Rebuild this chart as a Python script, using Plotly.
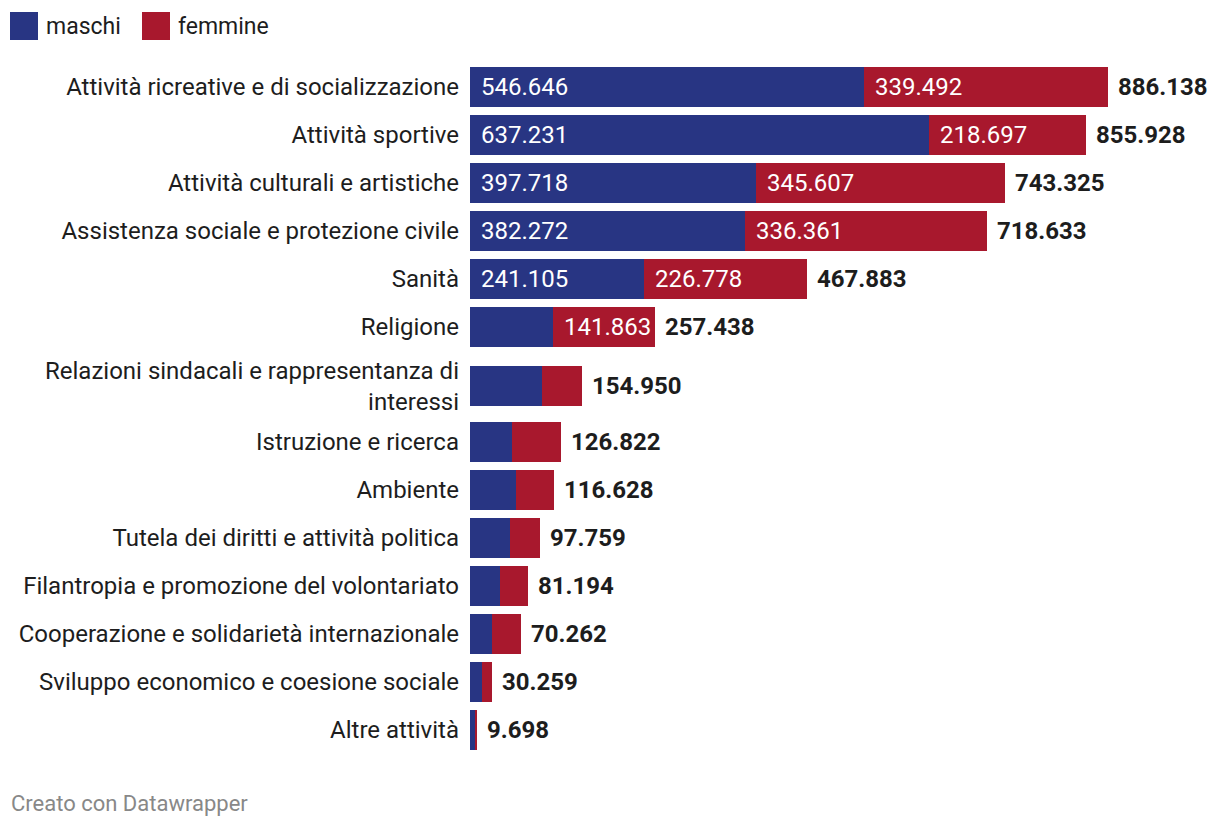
import plotly.graph_objects as go

categories = [
    "Attività ricreative e di socializzazione",
    "Attività sportive",
    "Attività culturali e artistiche",
    "Assistenza sociale e protezione civile",
    "Sanità",
    "Religione",
    "Relazioni sindacali e rappresentanza di<br>interessi",
    "Istruzione e ricerca",
    "Ambiente",
    "Tutela dei diritti e attività politica",
    "Filantropia e promozione del volontariato",
    "Cooperazione e solidarietà internazionale",
    "Sviluppo economico e coesione sociale",
    "Altre attività",
]
maschi = [546646, 637231, 397718, 382272, 241105, 115575, 100000, 57900,
          63900, 55560, 41670, 30560, 16670, 7600]
femmine = [339492, 218697, 345607, 336361, 226778, 141863, 54950, 68922,
           52728, 42199, 39524, 39702, 13589, 2098]
totali = [886138, 855928, 743325, 718633, 467883, 257438, 154950, 126822,
          116628, 97759, 81194, 70262, 30259, 9698]
show_inside_m = [True, True, True, True, True, False, False, False,
                 False, False, False, False, False, False]
show_inside_f = [True, True, True, True, True, True, False, False,
                 False, False, False, False, False, False]

BLUE = "#283583"
RED = "#a8182d"
FONT = "Roboto"
FS = 24


def fmt(v):
    return f"{v:,}".replace(",", ".")


W, H = 1204, 810
L, R, T, B = 462, 10, 52, 58
units_per_px = 886138 / 638
xmax = units_per_px * (W - L - R)

# vertical row layout (pixel units): 48px per row, extra room for 2-line labels
ypos = []
p = 79
for i, c in enumerate(categories):
    if i > 0:
        p += 48
        if "<br>" in c:
            p += 11
        if "<br>" in categories[i - 1]:
            p += 8
    ypos.append(p)

fig = go.Figure()
fig.add_trace(go.Bar(name="maschi", y=ypos, x=maschi, orientation="h",
                     marker=dict(color=BLUE, line=dict(width=0)), width=40,
                     hoverinfo="x"))
fig.add_trace(go.Bar(name="femmine", y=ypos, x=femmine, orientation="h",
                     marker=dict(color=RED, line=dict(width=0)), width=40,
                     hoverinfo="x"))

annotations = []
for i in range(len(categories)):
    if show_inside_m[i]:
        annotations.append(dict(x=0, y=ypos[i], text=fmt(maschi[i]), xref="x", yref="y",
                                xanchor="left", yanchor="middle", xshift=9, showarrow=False,
                                font=dict(family=FONT, size=FS, color="white")))
    if show_inside_f[i]:
        annotations.append(dict(x=maschi[i], y=ypos[i], text=fmt(femmine[i]), xref="x", yref="y",
                                xanchor="left", yanchor="middle", xshift=9, showarrow=False,
                                font=dict(family=FONT, size=FS, color="white")))
    annotations.append(dict(x=totali[i], y=ypos[i], text="<b>" + fmt(totali[i]) + "</b>",
                            xref="x", yref="y", xanchor="left", yanchor="middle", xshift=8,
                            showarrow=False, font=dict(family=FONT, size=FS, color="#1d1d1d")))

# legend + footer (pixel positions converted to paper coords)
annotations += [
    dict(x=36, y=18, xref="paper", yref="paper", text="maschi", showarrow=False,
         xanchor="left", yanchor="middle", font=dict(family=FONT, size=23, color="#1d1d1d")),
    dict(x=168, y=18, xref="paper", yref="paper", text="femmine", showarrow=False,
         xanchor="left", yanchor="middle", font=dict(family=FONT, size=23, color="#1d1d1d")),
    dict(x=1, y=795, xref="paper", yref="paper", text="Creato con Datawrapper", showarrow=False,
         xanchor="left", yanchor="middle", font=dict(family=FONT, size=22, color="#888888")),
]

for a in annotations:
    if a["xref"] == "paper":
        a["x"] = (a["x"] - L) / (W - L - R)
        a["y"] = 1 - (a["y"] - T) / (H - T - B)


def px_rect(x0, x1, y0, y1, color):
    return dict(type="rect", xref="paper", yref="paper",
                x0=(x0 - L) / (W - L - R), x1=(x1 - L) / (W - L - R),
                y0=1 - (y0 - T) / (H - T - B), y1=1 - (y1 - T) / (H - T - B),
                fillcolor=color, line=dict(width=0))


shapes = [px_rect(2, 30, 4, 32, BLUE), px_rect(134, 162, 4, 32, RED)]

fig.update_layout(
    barmode="stack",
    width=W, height=H,
    margin=dict(l=L, r=R, t=T, b=B, pad=0),
    paper_bgcolor="white", plot_bgcolor="white",
    showlegend=False,
    font=dict(family=FONT, size=FS, color="#1d1d1d"),
    annotations=annotations,
    shapes=shapes,
    xaxis=dict(range=[0, xmax], visible=False, fixedrange=True),
    yaxis=dict(range=[T + (H - T - B), T], tickmode="array", tickvals=ypos,
               ticktext=categories, showgrid=False, zeroline=False, showline=False,
               ticks="", ticklabelstandoff=10, fixedrange=True,
               tickfont=dict(family=FONT, size=FS, color="#1d1d1d")),
)

fig.write_html("out.html")
